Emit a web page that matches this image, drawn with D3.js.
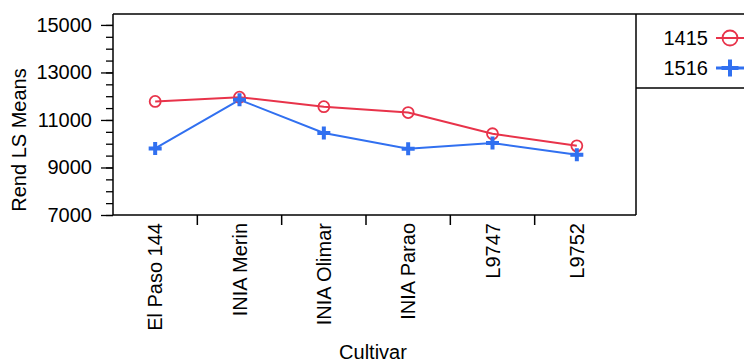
<!DOCTYPE html>
<html lang="en">
<head>
<meta charset="utf-8">
<title>Rend LS Means</title>
<style>
  body { margin: 0; background: #fff; }
  svg { display: block; font-family: "Liberation Sans", Arial, sans-serif; }
</style>
</head>
<body>
<div id="chart"></div>
<script src="https://d3js.org/d3.v7.min.js"></script>
<script>
// data
var cultivars = ["El Paso 144", "INIA Merin", "INIA Olimar", "INIA Parao", "L9747", "L9752"]
var seasons = ["1415", "1516"]
var rend1415 = [11780, 11960, 11560, 11310, 10420, 9910]
var rend1516 = [9800, 11850, 10450, 9790, 10030, 9540]
var yTicks = [7000, 9000, 11000, 13000, 15000]

var W = 744, H = 360
var plotLeft = 113, plotTop = 14, plotBottom = 215, plotRight = 636, bandRight = 619
var fs = 20

var svg = d3.select("#chart").append("svg")
  .attr("width", W).attr("height", H)

var x = d3.scaleBand().domain(cultivars).range([plotLeft, bandRight])
var y = d3.scaleLinear().domain([7000, 15460]).range([plotBottom, plotTop])

var colors = { "1415": "#e8334a", "1516": "#3170f0" }

// frame
svg.append("line").attr("x1", plotLeft).attr("x2", W).attr("y1", plotTop).attr("y2", plotTop)
  .attr("stroke", "#000").attr("stroke-width", 1.5)
svg.append("line").attr("x1", plotRight).attr("x2", plotRight).attr("y1", plotTop).attr("y2", plotBottom)
  .attr("stroke", "#000").attr("stroke-width", 1.5)
svg.append("line").attr("x1", plotRight).attr("x2", W).attr("y1", 88).attr("y2", 88)
  .attr("stroke", "#000").attr("stroke-width", 1.5)

// y axis, minor then major ticks
var yMinor = svg.append("g").attr("transform", "translate(" + plotLeft + ",0)")
  .call(d3.axisLeft(y).tickValues(d3.range(7000, 15001, 500)).tickSize(7).tickFormat(""))
yMinor.select(".domain").remove()
yMinor.selectAll(".tick line").attr("stroke-width", 1.3)
var yMajor = svg.append("g").attr("transform", "translate(" + plotLeft + ",0)")
  .call(d3.axisLeft(y).tickValues(yTicks).tickSize(12).tickPadding(9).tickFormat(d3.format("d")))
yMajor.select(".domain").attr("d", "M0," + plotTop + "V" + plotBottom).attr("stroke-width", 1.5)
yMajor.selectAll(".tick line").attr("stroke-width", 1.3)
yMajor.selectAll("text").attr("font-size", fs).attr("fill", "#000")
  .attr("font-family", "Liberation Sans, Arial, sans-serif")

// x axis
svg.append("line").attr("x1", plotLeft).attr("x2", plotRight).attr("y1", plotBottom).attr("y2", plotBottom)
  .attr("stroke", "#000").attr("stroke-width", 1.5)
svg.selectAll(".sep").data(cultivars.slice(1)).join("line")
  .attr("x1", d => x(d)).attr("x2", d => x(d))
  .attr("y1", plotBottom).attr("y2", plotBottom + 10)
  .attr("stroke", "#000").attr("stroke-width", 1.5)
svg.selectAll(".xlab").data(cultivars).join("text")
  .attr("transform", d => "translate(" + (x(d) + x.bandwidth() / 2 + 7) + "," + (plotBottom + 8) + ") rotate(-90)")
  .attr("text-anchor", "end").attr("font-size", fs).text(d => d)

// axis titles
svg.append("text").attr("transform", "translate(26,140) rotate(-90)")
  .attr("text-anchor", "middle").attr("font-size", fs).text("Rend LS Means")
svg.append("text").attr("x", 373).attr("y", 359)
  .attr("text-anchor", "middle").attr("font-size", fs).text("Cultivar")

// series
var cx = d => x(d) + x.bandwidth() / 2
var series = [{ key: "1415", vals: rend1415 }, { key: "1516", vals: rend1516 }]
var line = d3.line().x((v, i) => cx(cultivars[i])).y(v => y(v))

series.forEach(function (s) {
  svg.append("path").attr("d", line(s.vals)).attr("fill", "none")
    .attr("stroke", colors[s.key]).attr("stroke-width", 2)
})

function marker(g, key, px, py, r) {
  if (key === "1415") {
    g.append("circle").attr("cx", px).attr("cy", py).attr("r", r)
      .attr("fill", "none").attr("stroke", colors[key]).attr("stroke-width", 1.8)
  } else {
    var a = r + 1
    g.append("path").attr("d", "M" + (px - a) + "," + py + "H" + (px + a) + "M" + px + "," + (py - a) + "V" + (py + a))
      .attr("stroke", colors[key]).attr("stroke-width", 4).attr("fill", "none")
  }
}

series.forEach(function (s) {
  s.vals.forEach((v, i) => marker(svg, s.key, cx(cultivars[i]), y(v), 5.5))
})

// legend
seasons.forEach(function (k, i) {
  var ly = 38 + i * 30
  svg.append("text").attr("x", 708).attr("y", ly + 7).attr("text-anchor", "end")
    .attr("font-size", fs).text(k)
  svg.append("line").attr("x1", 716).attr("x2", 744).attr("y1", ly).attr("y2", ly)
    .attr("stroke", colors[k]).attr("stroke-width", k === "1516" ? 3 : 2)
  marker(svg, k, 730, ly, 7.5)
})
</script>
</body>
</html>
